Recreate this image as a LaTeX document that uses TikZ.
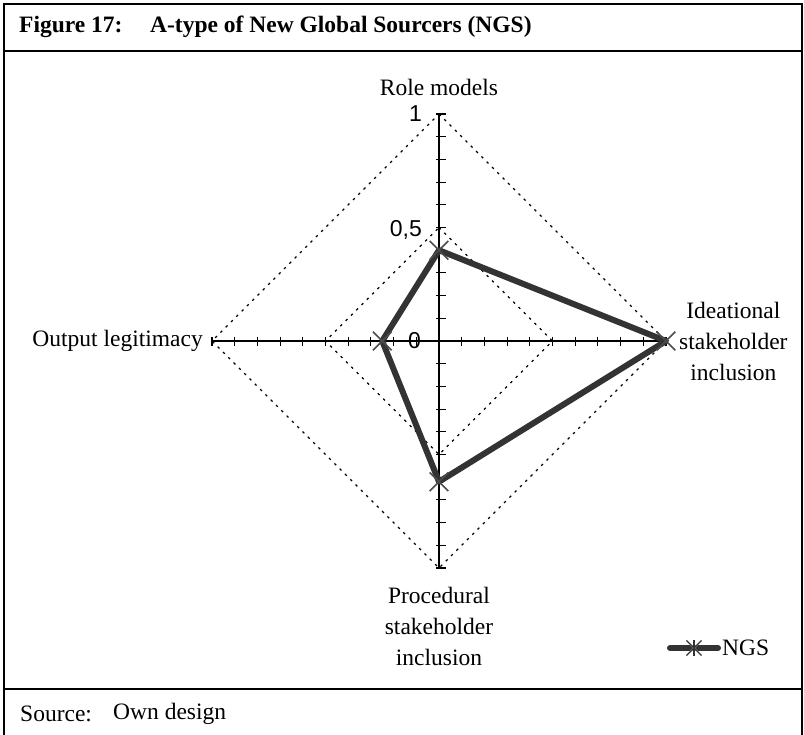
\documentclass[tikz,border=0pt]{standalone}
\usepackage{fontspec}
\setmainfont{Liberation Serif}
\newfontfamily\axisfont{Liberation Sans}
\usetikzlibrary{positioning,calc,shapes.misc}

\begin{document}
\begin{tikzpicture}[x=1pt,y=-1pt,
        every node/.style={font=\fontsize{23.5}{31}\selectfont,inner sep=0pt},
        frame/.style={line width=2.2pt},
        axisline/.style={line width=1.1pt},
        gridline/.style={line width=1.1pt,dash pattern=on 2.5pt off 5pt},
        dataline/.style={line width=6pt,draw=black!80,line join=round},
        xmk/.style={draw=black!70,line width=1.6pt,cross out,minimum size=17pt},
        ticklabel/.style={font=\fontsize{23}{26}\selectfont\axisfont}]
        \useasboundingbox (0,0) rectangle (804,735);
        % frame
        \draw[frame] (4,735) -- (4,4) -- (802,4) -- (802,735);
        \draw[frame] (4,51) -- (802,51);
        \draw[frame] (4,689) -- (802,689);
        \node[anchor=west,font=\fontsize{23.5}{26}\selectfont\bfseries] (fig) at (19,27) {Figure 17:};
        \node[anchor=west,font=\fontsize{23.5}{26}\selectfont\bfseries] (title) at (150,27) {A-type of New Global Sourcers (NGS)};
        \node[anchor=west] (src) at (20,714) {Source:};
        \node[anchor=west] (srctext) at (113,714) {Own design};
        % axes
        \coordinate (c) at (439,341);
        \coordinate (ax_t) at (439,114);
        \coordinate (ax_b) at (439,568);
        \coordinate (ax_l) at (212,341);
        \coordinate (ax_r) at (666,341);
        \coordinate (mid_t) at (439,227.5);
        \coordinate (mid_b) at (439,454.5);
        \coordinate (mid_l) at (325.5,341);
        \coordinate (mid_r) at (552.5,341);
        \draw[gridline] (ax_t) -- (ax_r) -- (ax_b) -- (ax_l) -- cycle;
        \draw[gridline] (mid_t) -- (mid_r) -- (mid_b) -- (mid_l) -- cycle;
        \draw[axisline] (ax_l) -- (ax_r);
        \draw[axisline] (ax_t) -- (ax_b);
        \foreach \i in {-10,...,10} {
            \draw[axisline] ($(c)+(\i*22.7,-4)$) -- ($(c)+(\i*22.7,5)$);
            \draw[axisline] ($(c)+(-3,\i*22.7)$) -- ($(c)+(7,\i*22.7)$);
        }
        % tick labels
        \node[ticklabel,left=17pt of ax_t] (t_one) {1};
        \node[ticklabel,left=17pt of mid_t,yshift=-2pt] (t_half) {0,5};
        \node[ticklabel,left=18pt of c] (t_zero) {0};
        % axis labels
        \node[above=18pt of ax_t] (l_role) {Role models};
        \node[left=9pt of ax_l] (l_out) {Output legitimacy};
        \node[right=13pt of ax_r,align=center] (l_ide) {Ideational\\stakeholder\\inclusion};
        \node[below=19pt of ax_b,align=center] (l_proc) {Procedural\\stakeholder\\inclusion};
        % data
        \coordinate (p_role) at (439,250.2);
        \coordinate (p_ide) at (666,341);
        \coordinate (p_proc) at (439,481.7);
        \coordinate (p_out) at (382.2,341);
        \draw[dataline] (p_role) -- (p_ide) -- (p_proc) -- (p_out) -- cycle;
        \foreach \p in {p_role,p_ide,p_proc,p_out}
            \node[xmk] at (\p) {};
        % legend
        \coordinate (lg_a) at (670,648);
        \coordinate (lg_b) at (718,648);
        \draw[dataline,line cap=round] (lg_a) -- (lg_b);
        \node[xmk,draw=white,minimum size=15pt,line width=1.2pt] (lg_m) at ($(lg_a)!0.5!(lg_b)$) {};
        \node[xmk,draw=black!80,minimum size=14pt,line width=1.2pt] at (lg_m) {};
        \draw[draw=black!80,line width=1.2pt] ($(lg_m)+(0,-8)$) -- ($(lg_m)+(0,8)$);
        \node[right=4pt of lg_b] (lg_txt) {NGS};
\end{tikzpicture}
\end{document}
